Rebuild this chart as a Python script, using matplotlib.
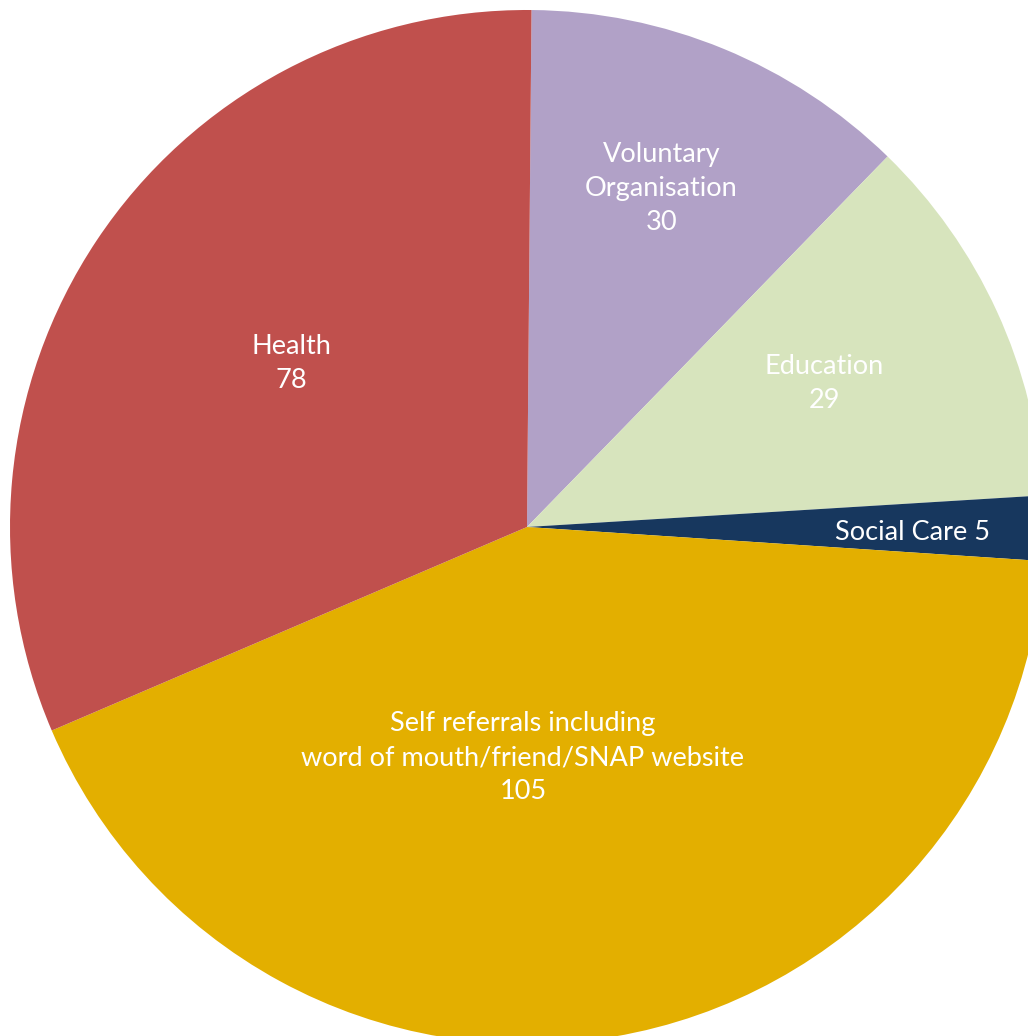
import numpy as np
import matplotlib.pyplot as plt

# referral sources, clockwise from the top
labels = ["Voluntary\nOrganisation\n30", "Education\n29", "Social Care 5",
          "Self referrals including\nword of mouth/friend/SNAP website\n105",
          "Health\n78"]
values = [30, 29, 5, 105, 78]
colors = ["#B1A1C7", "#D7E4BD", "#17375E", "#E3AF00", "#C0504D"]

# label spots in pie units (radius 1, centre at 0,0)
label_xy = [(0.26, 0.655), (0.575, 0.277), (0.745, -0.01), (-0.008, -0.446), (-0.456, 0.317)]

fig = plt.figure(figsize=(10.28, 10.36), dpi=100)
ax = fig.add_axes([0, 0, 1, 1])

R = 517.0  # pixel radius
cx, cy = 527.0, 527.0
ax.pie(values, colors=colors, startangle=89.5, counterclock=False, radius=1,
       wedgeprops=dict(linewidth=0))

for txt, (x, y) in zip(labels, label_xy):
    ax.text(x, y, txt, ha="center", va="center", color="white",
            fontsize=19.5, family="Lato", linespacing=1.45)

ax.set_aspect("auto")
ax.set_xlim(-cx / R, (1028 - cx) / R)
ax.set_ylim(-(1036 - cy) / R, cy / R)
ax.axis("off")

fig.savefig("out.png", dpi=100)
